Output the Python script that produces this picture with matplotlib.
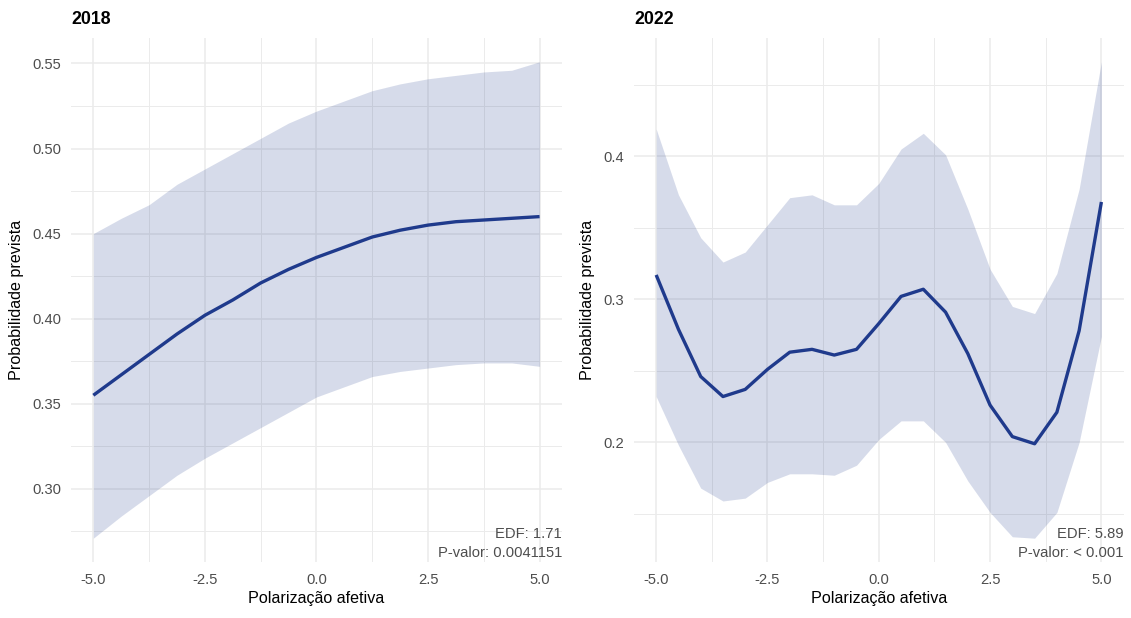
import matplotlib
matplotlib.use("Agg")
import matplotlib.pyplot as plt
from matplotlib.ticker import MultipleLocator, FormatStrFormatter

plt.rcParams['font.family'] = ['Liberation Sans', 'DejaVu Sans']

# 2018 smooth: predicted probability and confidence band
x18 = [-5.0, -4.375, -3.75, -3.125, -2.5, -1.875, -1.25, -0.625, 0.0,
       0.625, 1.25, 1.875, 2.5, 3.125, 3.75, 4.375, 5.0]
fit18 = [0.355, 0.367, 0.379, 0.391, 0.402, 0.411, 0.421, 0.429, 0.436,
         0.442, 0.448, 0.452, 0.455, 0.457, 0.458, 0.459, 0.460]
upper18 = [0.450, 0.459, 0.467, 0.479, 0.488, 0.497, 0.506, 0.515, 0.522,
           0.528, 0.534, 0.538, 0.541, 0.543, 0.545, 0.546, 0.551]
lower18 = [0.271, 0.284, 0.296, 0.308, 0.318, 0.327, 0.336, 0.345, 0.354,
           0.360, 0.366, 0.369, 0.371, 0.373, 0.374, 0.374, 0.372]

# 2022 smooth
x22 = [-5.0, -4.5, -4.0, -3.5, -3.0, -2.5, -2.0, -1.5, -1.0, -0.5, 0.0,
       0.5, 1.0, 1.5, 2.0, 2.5, 3.0, 3.5, 4.0, 4.5, 5.0]
fit22 = [0.317, 0.279, 0.246, 0.232, 0.237, 0.251, 0.263, 0.265, 0.261, 0.265, 0.283,
         0.302, 0.307, 0.291, 0.262, 0.226, 0.204, 0.199, 0.221, 0.278, 0.368]
upper22 = [0.419, 0.373, 0.343, 0.326, 0.333, 0.352, 0.371, 0.373, 0.366, 0.366, 0.381,
           0.405, 0.416, 0.401, 0.363, 0.321, 0.295, 0.290, 0.318, 0.377, 0.466]
lower22 = [0.232, 0.198, 0.168, 0.159, 0.161, 0.172, 0.178, 0.178, 0.177, 0.184, 0.202,
           0.215, 0.215, 0.200, 0.173, 0.151, 0.134, 0.133, 0.151, 0.200, 0.274]

titles = ['2018', '2022']
notes = ['EDF: 1.71\nP-valor: 0.0041151', 'EDF: 5.89\nP-valor: < 0.001']

line_col = '#1f3a8c'
grid_col = '#ebebeb'
text_col = '#4d4d4d'

fig = plt.figure(figsize=(11.31, 6.18), dpi=100)
ax1 = fig.add_axes([0.0628, 0.0906, 0.434, 0.848])
ax2 = fig.add_axes([0.5605, 0.0906, 0.433, 0.848])

panels = [
    (ax1, x18, fit18, lower18, upper18, 0.05, 0.025, '%.2f'),
    (ax2, x22, fit22, lower22, upper22, 0.1, 0.05, '%.1f'),
]

for i, (ax, x, fit, lo, hi, ymaj, ymin, fmt) in enumerate(panels):
    ax.fill_between(x, lo, hi, color=line_col, alpha=0.18, linewidth=0, zorder=2)
    ax.plot(x, fit, color=line_col, linewidth=2.4, zorder=3,
            solid_joinstyle='round', solid_capstyle='butt')

    # ggplot-style 5% expansion on both axes
    lo_all, hi_all = min(lo), max(hi)
    pad = (hi_all - lo_all) * 0.05
    ax.set_ylim(lo_all - pad, hi_all + pad)
    ax.set_xlim(-5.5, 5.5)

    ax.xaxis.set_major_locator(MultipleLocator(2.5))
    ax.xaxis.set_minor_locator(MultipleLocator(1.25))
    ax.yaxis.set_major_locator(MultipleLocator(ymaj))
    ax.yaxis.set_minor_locator(MultipleLocator(ymin))
    ax.xaxis.set_major_formatter(FormatStrFormatter('%.1f'))
    ax.yaxis.set_major_formatter(FormatStrFormatter(fmt))

    ax.grid(which='major', color=grid_col, linewidth=1.1, zorder=0)
    ax.grid(which='minor', color=grid_col, linewidth=0.7, zorder=0)
    ax.set_axisbelow(True)
    for s in ax.spines.values():
        s.set_visible(False)
    ax.tick_params(which='both', length=0, labelsize=10.6, labelcolor=text_col)
    ax.tick_params(axis='x', pad=8)
    ax.tick_params(axis='y', pad=7)

    ax.set_xlabel('Polarização afetiva', fontsize=11.6, color='black', labelpad=3)
    ax.set_ylabel('Probabilidade prevista', fontsize=11.6, color='black', labelpad=6)
    ax.set_title(titles[i], loc='left', fontsize=12.8, fontweight='bold', pad=10)

    ax.text(1.0, 0.003, notes[i], transform=ax.transAxes, ha='right', va='bottom',
            fontsize=10.6, color=text_col, linespacing=1.5)

fig.savefig('out.png', dpi=100)
